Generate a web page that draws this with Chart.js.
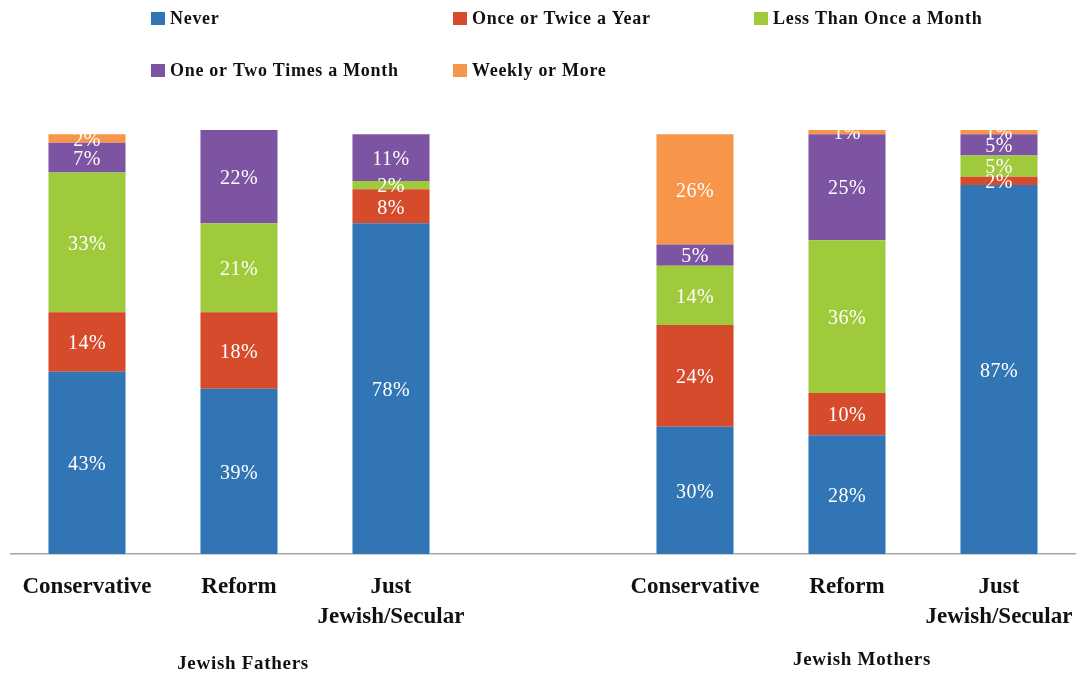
<!DOCTYPE html>
<html>
<head>
<meta charset="utf-8">
<script src="https://cdn.jsdelivr.net/npm/chart.js@4"></script>
<style>
  html, body { margin: 0; padding: 0; background: #ffffff; }
  #wrap { width: 1078px; height: 674px; position: relative; }
</style>
</head>
<body>
<div id="wrap"><canvas id="chart" width="1078" height="674"></canvas></div>
<script>
// Category slots: three denominations for fathers, an empty spacer, three for mothers
const categories = [
  'Conservative', 'Reform', ['Just', 'Jewish/Secular'],
  '',
  'Conservative', 'Reform', ['Just', 'Jewish/Secular']
];
const groupLabels = ['Jewish Fathers', 'Jewish Mothers'];

const seriesNames = [
  'Never',
  'Once or Twice a Year',
  'Less Than Once a Month',
  'One or Two Times a Month',
  'Weekly or More'
];

// Percent of respondents per frequency (stacked)
const never          = [43, 39, 78, null, 30, 28, 87];
const onceTwiceYear  = [14, 18,  8, null, 24, 10,  2];
const lessThanMonth  = [33, 21,  2, null, 14, 36,  5];
const oneTwoMonth    = [ 7, 22, 11, null,  5, 25,  5];
const weeklyOrMore   = [ 2,  0,  0, null, 26,  1,  1];

const seriesValues = [never, onceTwiceYear, lessThanMonth, oneTwoMonth, weeklyOrMore];
const seriesColors = ['#3175B4', '#D54B2C', '#9FCA3B', '#7C54A2', '#F7964A'];

const SERIF = '"Liberation Serif", "Times New Roman", serif';

// Percent labels centred inside each segment
const segmentLabels = {
  id: 'segmentLabels',
  afterDatasetsDraw(chart) {
    const ctx = chart.ctx;
    ctx.save();
    ctx.fillStyle = '#ffffff';
    ctx.font = '20px ' + SERIF;
    ctx.textAlign = 'center';
    ctx.textBaseline = 'middle';
    try { ctx.letterSpacing = '0.5px'; } catch (e) {}
    chart.data.datasets.forEach((ds, di) => {
      const meta = chart.getDatasetMeta(di);
      meta.data.forEach((bar, i) => {
        const v = ds.data[i];
        if (v === null || v === 0) return;
        const yMid = (bar.y + bar.base) / 2;
        ctx.fillText(v + '%', bar.x, yMid + 2);
      });
    });
    ctx.restore();
  }
};

// Legend laid out on a fixed three-column grid
const gridLegend = {
  id: 'gridLegend',
  afterDraw(chart) {
    const ctx = chart.ctx;
    const colX = [151, 453, 754];
    const rowY = [18, 70];
    ctx.save();
    ctx.font = 'bold 18px ' + SERIF;
    ctx.textBaseline = 'middle';
    ctx.textAlign = 'left';
    try { ctx.letterSpacing = '0.7px'; } catch (e) {}
    chart.data.datasets.forEach((ds, i) => {
      const x = colX[i % 3];
      const y = rowY[Math.floor(i / 3)];
      ctx.fillStyle = ds.backgroundColor;
      ctx.fillRect(x, y - 6, 14, 13);
      ctx.fillStyle = '#111111';
      ctx.fillText(ds.label, x + 19, y + 1);
    });
    ctx.restore();
  }
};

// Group captions under each block of three bars
const groupCaptions = {
  id: 'groupCaptions',
  afterDraw(chart) {
    const ctx = chart.ctx;
    const xs = chart.scales.x;
    ctx.save();
    ctx.font = 'bold 19px ' + SERIF;
    ctx.fillStyle = '#111111';
    ctx.textAlign = 'center';
    ctx.textBaseline = 'middle';
    try { ctx.letterSpacing = '0.7px'; } catch (e) {}
    ctx.fillText(groupLabels[0], xs.getPixelForValue(1) + 4, 664);
    ctx.fillText(groupLabels[1], xs.getPixelForValue(5) + 15, 660);
    ctx.restore();
  }
};

new Chart(document.getElementById('chart'), {
  type: 'bar',
  data: {
    labels: categories,
    datasets: seriesNames.map((name, i) => ({
      label: name,
      data: seriesValues[i],
      backgroundColor: seriesColors[i],
      borderWidth: 0,
      barPercentage: 0.507,
      categoryPercentage: 1.0
    }))
  },
  options: {
    responsive: false,
    animation: false,
    devicePixelRatio: 1,
    layout: { padding: { left: 11, right: 3, top: 130, bottom: 0 } },
    plugins: {
      legend: { display: false },
      tooltip: { enabled: false }
    },
    scales: {
      x: {
        stacked: true,
        grid: { display: false, drawTicks: false },
        border: { display: true, color: '#A6A6A6', width: 1.5 },
        ticks: {
          color: '#111111',
          font: { family: SERIF, size: 23, weight: 'bold', lineHeight: 1.3 },
          padding: 18,
          maxRotation: 0,
          autoSkip: false
        },
        afterFit(scale) {
          scale.height = 120;
          scale.paddingLeft = 0;
          scale.paddingRight = 0;
        }
      },
      y: {
        stacked: true,
        display: false,
        min: 0,
        max: 100
      }
    }
  },
  plugins: [segmentLabels, gridLegend, groupCaptions]
});
</script>
</body>
</html>
